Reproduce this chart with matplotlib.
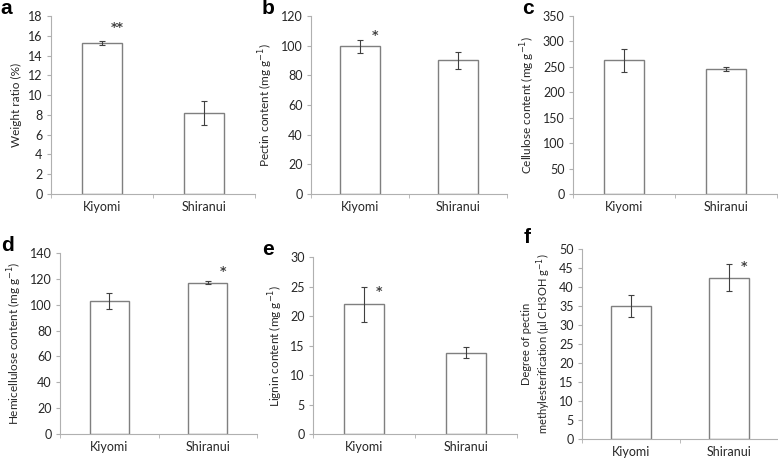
import matplotlib
matplotlib.use('Agg')
import numpy as np
from matplotlib import pyplot as plt

plt.rcParams['font.family'] = ['Lato', 'DejaVu Sans']

cultivars = ['Kiyomi', 'Shiranui']

weight_ratio = [15.3, 8.2]
weight_err = [0.2, 1.2]
pectin = [99.5, 90.0]
pectin_err = [4.5, 6.0]
cellulose = [263, 245]
cellulose_err = [23, 4]
hemicellulose = [103, 117]
hemicellulose_err = [6, 1]
lignin = [22.0, 13.8]
lignin_err = [3.0, 0.9]
methyl = [35.0, 42.5]
methyl_err = [2.8, 3.5]

# significance marks: (bar index, text, y value)
sig_a = (0, '**', 16.8)
sig_b = (0, '*', 107)
sig_d = (1, '*', 126)
sig_e = (0, '*', 24.2)
sig_f = (1, '*', 45.5)

W, H = 778, 461
fig = plt.figure(figsize=(W / 100, H / 100), dpi=100)


def box(x0, x1, ytop, ybot):
    return [x0 / W, 1 - ybot / H, (x1 - x0) / W, (ybot - ytop) / H]


def panel(rect, vals, errs, ymax, ystep, ylabel, letter, sig=None, lx=-0.2,
          ly=1.04, yfs=8.5):
    ax = fig.add_axes(rect)
    x = np.arange(len(cultivars))
    ax.bar(x, vals, width=0.4, color='white', edgecolor='#7f7f7f', linewidth=1.0)
    ax.errorbar(x, vals, yerr=errs, fmt='none', ecolor='#404040',
                elinewidth=0.8, capsize=2.5, capthick=0.8)
    ax.set_xlim(-0.5, 1.5)
    ax.set_ylim(0, ymax)
    ax.set_yticks(np.arange(0, ymax + ystep / 2, ystep))
    ax.set_xticks(x)
    ax.set_xticklabels(cultivars)
    ax.set_xticks([-0.5, 0.5, 1.5], minor=True)
    ax.tick_params(axis='x', which='major', length=0, pad=5)
    ax.tick_params(axis='x', which='minor', length=3, color='#b0b0b0')
    ax.tick_params(axis='y', length=3, color='#b0b0b0', pad=3)
    ax.tick_params(labelsize=9, labelcolor='#262626')
    for s in ['top', 'right']:
        ax.spines[s].set_visible(False)
    for s in ['left', 'bottom']:
        ax.spines[s].set_color('#b0b0b0')
    ax.set_ylabel(ylabel, fontsize=yfs, color='#262626', labelpad=4)
    ax.text(lx, ly, letter, transform=ax.transAxes, fontsize=15,
            fontweight='bold', family='Liberation Sans', va='center', ha='left')
    if sig is not None:
        i, t, yv = sig
        ax.text(x[i] + 0.15, yv, t, fontsize=9, fontweight='bold',
                family='DejaVu Sans', ha='center', va='center', color='#404040')
    return ax


panel(box(51, 255, 16, 194), weight_ratio, weight_err, 18, 2,
      'Weight ratio (%)', 'a', sig_a, lx=-0.25)
panel(box(311, 507, 16, 194), pectin, pectin_err, 120, 20,
      'Pectin content (mg g$^{-1}$)', 'b', sig_b, lx=-0.25)
panel(box(573, 777, 16, 194), cellulose, cellulose_err, 350, 50,
      'Cellulose content (mg g$^{-1}$)', 'c', None, lx=-0.25)
panel(box(60, 257, 253, 434), hemicellulose, hemicellulose_err, 140, 20,
      'Hemicellulose content (mg g$^{-1}$)', 'd', sig_d, lx=-0.3)
panel(box(313, 517, 257, 434), lignin, lignin_err, 30, 5,
      'Lignin content (mg g$^{-1}$)', 'e', sig_e, lx=-0.25)
panel(box(582, 778, 249, 439), methyl, methyl_err, 50, 5,
      'Degree of pectin\nmethylesterification (µl CH3OH g$^{-1}$)', 'f', sig_f,
      lx=-0.3, ly=1.06, yfs=8)

fig.savefig('out.png', dpi=100)
